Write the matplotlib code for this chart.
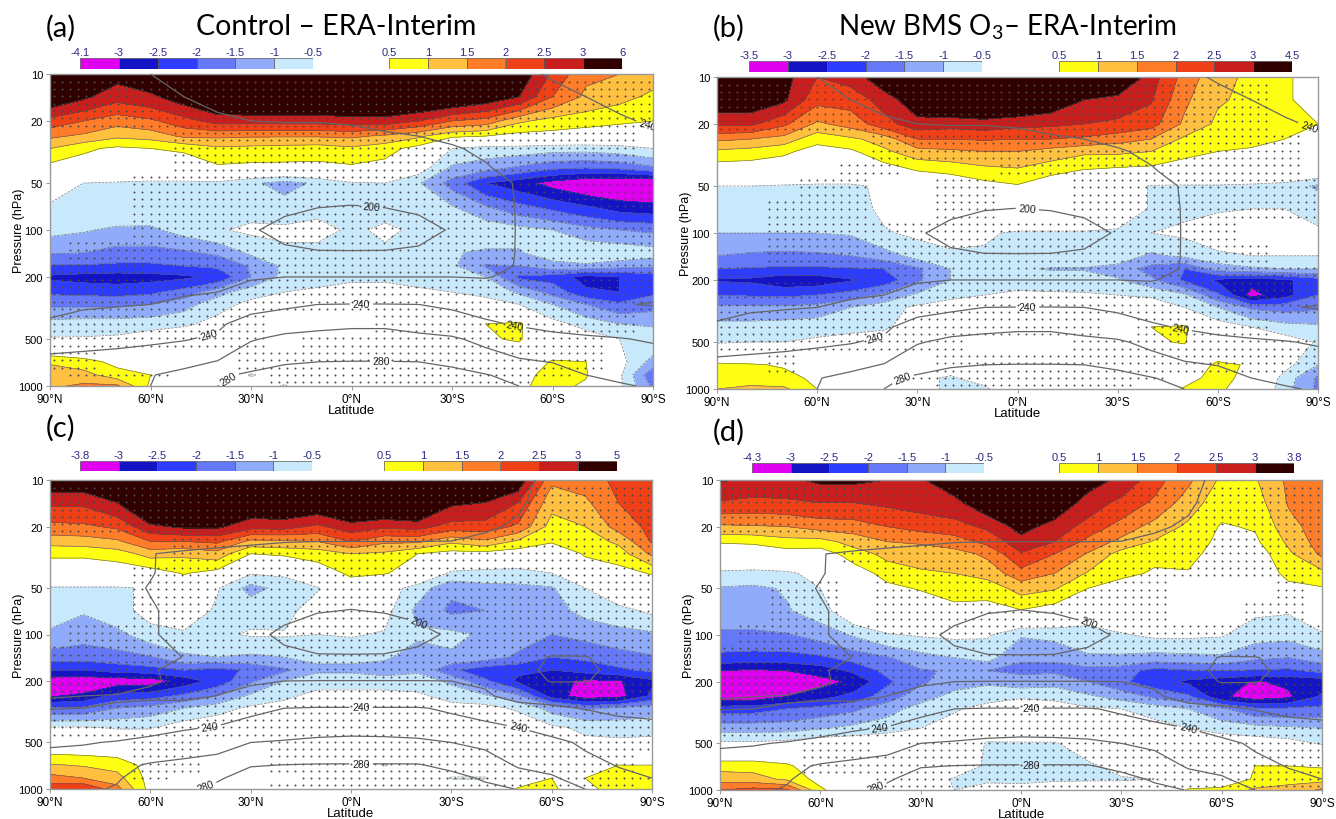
import numpy as np
import matplotlib
matplotlib.use("Agg")
import matplotlib.pyplot as plt
from matplotlib.ticker import NullLocator

# Grid of the zonal means
lats = [90, 80, 70, 60, 50, 40, 30, 20, 10, 0, -10, -20, -30, -40, -50, -60, -70, -80, -90]
plevs = [10, 14, 20, 25, 30, 40, 50, 70, 100, 140, 170, 200, 250, 300, 400, 500, 700, 850, 1000]
lat_ticks = [90, 60, 30, 0, -30, -60, -90]
lat_labels = ['90°N', '60°N', '30°N', '0°N', '30°S', '60°S', '90°S']
p_ticks = [10, 20, 50, 100, 200, 500, 1000]

neg_colors = ['#e000f0', '#1414c4', '#2e3cff', '#6478f8', '#8fabfa', '#c8e8fb']
pos_colors = ['#ffff14', '#ffc040', '#ff7d28', '#f04018', '#c81e1e', '#300000']

neg_labels_a = ['-4.1', '-3', '-2.5', '-2', '-1.5', '-1', '-0.5']
neg_labels_b = ['-3.5', '-3', '-2.5', '-2', '-1.5', '-1', '-0.5']
neg_labels_c = ['-3.8', '-3', '-2.5', '-2', '-1.5', '-1', '-0.5']
neg_labels_d = ['-4.3', '-3', '-2.5', '-2', '-1.5', '-1', '-0.5']
pos_labels_a = ['0.5', '1', '1.5', '2', '2.5', '3', '6']
pos_labels_b = ['0.5', '1', '1.5', '2', '2.5', '3', '4.5']
pos_labels_c = ['0.5', '1', '1.5', '2', '2.5', '3', '5']
pos_labels_d = ['0.5', '1', '1.5', '2', '2.5', '3', '3.8']

# Temperature bias, one row per pressure level
bias_a = [
    [4.0, 3.8, 3.2, 3.4, 4.0, 4.5, 4.5, 4.5, 4.5, 4.5, 4.5, 4.5, 4.5, 4.2, 3.4, 2.4, 1.6, 1.5, 1.2],
    [3.5, 3.1, 2.7, 2.9, 3.3, 3.7, 3.8, 3.8, 3.8, 3.8, 3.8, 3.8, 3.7, 3.4, 3.0, 2.0, 1.4, 1.15, 0.9],
    [2.3, 2.0, 1.7, 1.9, 2.3, 2.7, 2.7, 2.7, 2.7, 2.8, 2.8, 2.5, 2.0, 1.8, 1.1, 0.8, 0.7, 0.6, 0.5],
    [1.6, 1.4, 1.1, 1.2, 1.6, 1.6, 1.55, 1.55, 1.55, 1.6, 1.4, 1.1, 0.6, 0.5, 0.3, 0.3, 0.2, 0.1, 0.1],
    [1.0, 0.6, 0.4, 0.5, 0.6, 0.9, 0.85, 0.8, 0.75, 0.9, 0.7, 0.3, -0.5, -0.7, -0.7, -0.8, -0.8, -0.7, -0.5],
    [0.3, 0.2, 0.1, 0.1, 0.1, 0.4, 0.35, 0.35, 0.35, 0.4, 0.3, -0.2, -1.1, -1.3, -1.6, -1.9, -2.0, -1.9, -1.6],
    [-0.2, -0.5, -0.55, -0.6, -0.6, -0.6, -0.9, -1.2, -0.9, -0.55, -0.5, -0.95, -1.7, -2.5, -2.8, -3.2, -3.5, -3.6, -3.6],
    [-0.55, -0.55, -0.55, -0.6, -0.6, -0.7, -0.7, -0.8, -0.6, -0.55, -0.6, -0.7, -1.0, -1.5, -1.9, -2.2, -2.5, -2.8, -2.9],
    [-0.85, -0.95, -1.1, -1.1, -0.8, -0.55, -0.4, -0.4, -0.4, -0.55, -0.45, -0.55, -0.5, -0.6, -0.8, -1.0, -1.3, -1.5, -1.6],
    [-1.45, -1.5, -1.7, -1.7, -1.6, -1.4, -0.9, -0.6, -0.6, -0.55, -0.55, -0.55, -0.95, -1.1, -1.05, -0.7, -0.6, -0.6, -0.75],
    [-2.05, -2.05, -2.1, -2.1, -2.0, -1.9, -1.45, -0.9, -0.6, -0.55, -0.55, -0.6, -0.9, -1.55, -1.5, -1.2, -1.1, -1.3, -1.4],
    [-2.6, -2.7, -2.75, -2.7, -2.6, -2.4, -1.5, -0.85, -0.6, -0.55, -0.55, -0.6, -0.7, -1.0, -2.1, -2.2, -2.7, -2.5, -2.3],
    [-2.1, -2.15, -2.2, -2.1, -1.8, -1.2, -0.7, -0.5, -0.45, -0.4, -0.4, -0.45, -0.5, -0.6, -1.1, -1.7, -2.4, -2.5, -2.1],
    [-1.6, -1.6, -1.6, -1.5, -1.2, -0.7, -0.35, -0.2, -0.2, -0.2, -0.2, -0.2, -0.25, -0.35, -0.5, -1.0, -1.5, -1.9, -1.7],
    [-0.8, -0.75, -0.75, -0.7, -0.6, -0.3, 0, 0, 0, 0, 0, 0, 0.1, 0.5, 0.6, -0.3, -0.7, -1.0, -1.1],
    [-0.45, -0.45, -0.4, -0.2, 0, 0, 0, 0, 0.1, 0.1, 0.1, 0, 0, 0.45, 0.55, 0, -0.2, -0.5, -0.55],
    [0.9, 0.7, 0.35, 0.1, 0, 0, 0, 0, 0, 0, 0, 0, 0, 0, 0.1, 0.55, 0.5, -0.3, -1.2],
    [1.4, 1.2, 0.7, 0.5, 0.2, 0, -0.55, -0.2, 0, 0, 0, 0, 0, 0.1, 0.2, 0.8, 0.55, -0.4, -1.9],
    [1.4, 1.6, 1.6, 0.4, 0, 0, -0.2, -0.55, 0, 0, 0, 0, 0.1, 0.2, 0.4, 0.7, 0.4, -0.4, -1.6],
]
bias_b = [
    [3.6, 3.5, 3.2, 2.5, 2.7, 3.4, 4, 4, 4, 4, 4, 4, 3.7, 2.75, 1.8, 1.15, 0.9, 0.6, 0.2],
    [3.4, 3.4, 3.1, 2.15, 2.2, 2.7, 3.4, 3.7, 3.7, 3.7, 3.4, 3.0, 2.8, 2.55, 1.6, 1.05, 0.9, 0.6, 0.2],
    [2.6, 2.6, 2.1, 1.4, 1.7, 2.3, 2.8, 2.7, 2.8, 2.65, 2.6, 2.5, 2.4, 2.2, 1.4, 0.9, 0.8, 0.6, 0.5],
    [1.6, 1.5, 1.3, 0.65, 0.9, 1.2, 2.0, 2.0, 2.05, 2.0, 2.0, 1.9, 1.7, 1.5, 0.9, 0.7, 0.6, 0.5, 0.4],
    [0.9, 0.8, 0.6, 0.3, 0.4, 0.9, 1.3, 1.4, 1.5, 1.5, 1.3, 1.1, 1.1, 1.0, 0.7, 0.5, 0.45, 0.5, 0.45],
    [0.1, 0.1, 0.1, 0.1, 0.1, 0.15, 0.5, 0.6, 0.8, 0.9, 0.65, 0.45, 0.35, 0.3, 0.1, 0.1, 0.1, 0.1, 0],
    [-0.5, -0.5, -0.55, -0.6, -0.6, -0.4, 0, 0.1, 0.3, 0.45, 0.1, 0, -0.1, -0.55, -0.55, -0.55, -0.6, -0.7, -1.1],
    [-0.7, -0.7, -0.75, -0.75, -0.7, -0.4, -0.1, 0, 0, 0, 0, 0, -0.1, -0.55, -0.6, -0.55, -0.5, -0.5, -0.6],
    [-1, -1, -1, -1, -0.95, -0.55, -0.4, -0.4, -0.45, -0.55, -0.55, -0.55, -0.6, -0.5, -0.4, -0.2, -0.2, -0.3, -0.45],
    [-1.5, -1.6, -1.65, -1.6, -1.5, -1.25, -0.8, -0.55, -0.55, -0.6, -0.6, -0.6, -0.7, -1.1, -0.9, -0.6, -0.5, -0.5, -0.5],
    [-2, -2.05, -2.1, -2.1, -2.05, -2.0, -1.6, -1, -0.6, -0.9, -1.05, -1.05, -1.2, -1.7, -2.0, -1.3, -1.1, -1.0, -1.0],
    [-2.55, -2.6, -2.85, -2.8, -2.55, -2.3, -1.6, -1.0, -0.7, -0.6, -0.65, -0.7, -0.95, -1.4, -2.1, -2.6, -2.8, -2.6, -2.2],
    [-2.0, -2.05, -2.1, -2.0, -1.8, -1.4, -0.9, -0.6, -0.5, -0.45, -0.45, -0.45, -0.5, -0.55, -0.9, -1.9, -3.2, -2.7, -2.0],
    [-1.4, -1.4, -1.4, -1.3, -1.0, -0.7, -0.4, -0.3, -0.2, -0.2, -0.2, -0.2, -0.2, -0.3, -0.5, -1.0, -1.6, -1.7, -1.6],
    [-0.8, -0.8, -0.75, -0.7, -0.7, -0.6, -0.2, 0, 0, 0, 0, 0, 0.1, 0.5, 0.58, -0.2, -0.5, -0.8, -0.9],
    [-0.55, -0.5, -0.5, -0.4, -0.2, -0.1, 0, 0, 0, 0, 0, 0, 0, 0.45, 0.53, 0, -0.1, -0.2, -0.55],
    [0.6, 0.55, 0.45, 0.2, 0, 0, -0.1, -0.3, -0.52, -0.3, 0, 0, 0, 0, 0.1, 0.6, 0.45, -0.3, -1.0],
    [0.9, 0.8, 0.65, 0.4, 0.1, 0, -0.4, -0.55, -0.3, 0, 0, 0, 0, 0, 0.3, 0.7, 0.3, -0.7, -1.6],
    [1.0, 1.1, 1.1, 0.5, 0, -0.1, -0.4, -0.55, -0.6, 0, 0, 0, 0, 0.1, 0.55, 0.6, 0.2, -0.8, -1.6],
]
# c and d: one row per latitude
bias_c_by_lat = [
    [3.4, 2.6, 1.85, 1.2, 0.6, 0.1, -0.55, -0.75, -1.1, -1.75, -2.5, -3.3, -3.05, -1.95, -0.45, 0, 1.05, 1.7, 2.3],
    [3.4, 2.6, 1.9, 1.25, 0.6, 0.1, -0.55, -0.95, -1.3, -1.8, -2.5, -3.4, -2.9, -1.9, -0.45, 0, 0.95, 1.5, 2.5],
    [3.7, 3.0, 2.1, 1.4, 0.75, 0.1, -0.55, -0.7, -1.15, -1.7, -2.3, -3.3, -2.3, -1.5, -0.55, 0, 0.8, 1.2, 1.7],
    [4.5, 3.8, 2.9, 2.0, 1.2, 0.2, -0.45, -0.3, -0.7, -1.55, -2.2, -3.3, -2.2, -1.3, -0.55, 0, 0.3, 0.3, 0.3],
    [4.5, 4.3, 3.1, 2.0, 1.1, 0.55, 0, -0.1, -0.6, -1.1, -2.0, -2.8, -1.9, -1, -0.2, 0, 0, 0, 0],
    [4.5, 4.2, 3.1, 2.1, 1.3, 0.3, -0.45, -0.6, -0.6, -1.0, -2.2, -2.3, -1.5, -0.7, -0.1, 0, 0, 0, 0],
    [4.5, 3.5, 2.7, 1.35, 0.5, -0.45, -1.2, -0.65, -0.45, -1.1, -1.9, -1.6, -0.9, -0.4, 0, 0, 0, 0, 0],
    [4.5, 3.6, 2.7, 1.4, 0.6, -0.4, -0.8, -0.7, -0.45, -1.0, -1.6, -1.0, -0.6, -0.3, 0, 0, 0, 0, 0],
    [4.5, 3.5, 2.4, 1.5, 0.7, 0.2, -0.55, -0.2, -0.5, -0.9, -1.1, -0.7, -0.35, -0.2, 0, 0, 0, 0, 0],
    [4.5, 3.8, 2.8, 2.0, 1.0, 0.6, 0.2, -0.1, -0.45, -0.9, -1.1, -0.7, -0.35, -0.2, 0, 0, 0, 0, 0],
    [4.5, 3.8, 2.6, 1.6, 0.9, 0.55, -0.2, -0.3, -0.55, -0.9, -1.3, -0.7, -0.35, -0.2, 0, 0, -0.55, 0, 0],
    [4.5, 3.9, 2.7, 1.6, 0.5, 0.2, -0.75, -1.15, -0.9, -1.3, -1.1, -0.75, -0.4, -0.2, 0, 0, -0.1, 0, 0],
    [4.5, 3.1, 2.3, 1.1, 0.3, -0.6, -1.4, -1.6, -0.85, -1.1, -1.9, -1.1, -0.7, -0.3, 0, 0, 0, -0.55, 0],
    [4.5, 3, 2.3, 1.4, 0.3, -0.7, -1.15, -1.5, -1.1, -1.25, -2.3, -1.9, -0.9, -0.3, 0, 0, 0, -0.55, 0],
    [3.4, 2.5, 1.9, 0.9, 0.2, -0.75, -1.1, -1.3, -1.25, -1.6, -2.4, -2.6, -1.4, -0.6, 0, 0, 0, 0.2, 0.55],
    [1.6, 1.15, 0.8, 0.55, 0.1, -0.5, -1.05, -1.2, -1.5, -2.0, -2.5, -2.8, -2.7, -1.2, -0.4, 0, 0, 0.5, 0.55],
    [1.7, 1.4, 1.0, 0.75, 0.55, 0.2, -0.5, -0.85, -1.35, -1.9, -2.3, -3.1, -3.3, -1.6, -0.6, -0.4, 0.3, 0.5, 0.3],
    [2.15, 2.0, 1.7, 1.1, 0.75, 0.3, -0.1, -0.65, -1.2, -1.7, -2.1, -3.05, -3.2, -1.4, -0.7, -0.4, 0.5, 0.7, 0.8],
    [2.4, 2.3, 2.15, 2.05, 1.6, 0.55, 0.1, -0.4, -1.1, -1.55, -1.9, -2.6, -2.4, -1.2, -0.75, -0.3, 0.5, 1, 1],
]
bias_d_by_lat = [
    [3.05, 2.45, 1.4, 0.55, 0.1, -0.6, -1.05, -1.2, -1.6, -2.15, -3.0, -3.5, -3.4, -2.2, -1.2, -0.4, 0.8, 1.3, 2.0],
    [2.9, 2.35, 1.45, 0.6, 0.1, -0.65, -1.1, -1.2, -1.6, -2.2, -3.1, -3.5, -3.3, -2.2, -1.2, -0.4, 0.8, 1.2, 2.2],
    [2.9, 2.4, 1.5, 0.8, 0.25, -0.6, -0.95, -1.05, -1.55, -2.2, -3.0, -3.4, -3.0, -2, -1.2, -0.3, 0.6, 0.9, 2.1],
    [3.1, 2.5, 1.7, 0.8, 0.2, -0.3, -0.5, -0.75, -1.3, -2.1, -2.8, -3.2, -2.7, -1.8, -1.05, -0.1, 0.1, 0.3, 0.6],
    [3.1, 2.5, 1.75, 1.2, 0.75, 0.2, 0, 0, -0.95, -1.8, -2.4, -2.9, -2.3, -1.6, -0.85, -0.1, 0, 0, 0],
    [3.0, 2.6, 2.0, 1.5, 1.15, 0.7, 0.35, 0.1, -0.55, -1.55, -1.85, -2.1, -1.75, -1.2, -0.7, 0, 0, 0, 0],
    [2.95, 2.7, 2.2, 1.55, 1.3, 0.9, 0.55, 0, -0.45, -1.2, -1.55, -1.6, -1.2, -0.8, -0.5, 0, 0, -0.2, -0.2],
    [3.3, 2.85, 2.3, 1.75, 1.3, 1.0, 0.75, 0.3, -0.4, -1, -1.45, -1.2, -0.85, -0.55, -0.3, 0, -0.1, -0.55, -0.5],
    [3.7, 3.4, 2.6, 2.15, 1.6, 1.2, 0.7, 0.3, -0.45, -0.8, -1.5, -1.1, -0.65, -0.35, -0.1, -0.55, -0.6, -0.6, -0.3],
    [3.7, 3.6, 3.2, 2.8, 2.45, 1.8, 1.2, 0.45, -0.95, -1.45, -1.6, -1.3, -0.55, -0.2, 0, -0.55, -0.8, -0.7, -0.2],
    [3.7, 3.4, 2.8, 2.5, 2.0, 1.5, 1.05, 0.2, -0.85, -1.45, -1.6, -1.2, -0.6, -0.3, 0, -0.55, -0.7, -0.6, -0.1],
    [3.2, 2.8, 2.3, 1.85, 1.45, 0.95, 0.5, -0.1, -0.8, -1.05, -1.7, -1.5, -0.9, -0.4, 0, -0.2, -0.6, -0.6, 0],
    [2.9, 2.35, 1.8, 1.35, 0.8, 0.6, 0.3, -0.1, -0.55, -1.1, -1.75, -1.9, -1.2, -0.5, 0, 0, -0.3, -0.55, -0.2],
    [2.2, 1.9, 1.3, 0.95, 0.6, 0.45, 0.1, 0, -0.4, -1.2, -2.2, -2.3, -1.6, -0.7, -0.3, 0, 0, -0.5, -0.1],
    [1.6, 1.25, 0.9, 0.8, 0.7, 0.45, 0, 0, -0.4, -1.15, -2.05, -2.6, -1.9, -1.0, -0.5, 0, 0, 0.1, 0.55],
    [0.9, 0.7, 0.45, 0.35, 0.2, 0.1, 0, -0.1, -0.45, -1.1, -2.0, -2.8, -2.9, -1.4, -0.7, -0.1, 0, 0.2, 0.6],
    [0.95, 0.75, 0.55, 0.4, 0.2, 0.1, -0.1, -0.4, -0.8, -1.4, -2.05, -3.05, -3.3, -1.9, -0.8, -0.2, 0.5, 0.55, 1.1],
    [1.6, 1.55, 1.3, 1.1, 0.9, 0.65, 0.35, -0.45, -0.85, -1.5, -2.1, -2.9, -3.1, -1.9, -0.9, -0.3, 0.5, 0.9, 1.1],
    [1.8, 1.8, 1.8, 1.75, 1.6, 0.85, 0.45, -0.2, -0.55, -1.25, -1.85, -2.8, -2.4, -1.85, -1.0, -0.55, 0.45, 0.8, 1.6],
]

# ERA-Interim temperature (K), one set for a/b and one for c/d
temp_ab = [
    [205, 208, 213, 220, 225, 227, 228, 229, 230, 231, 232, 233, 234, 236, 238, 241, 246, 250, 253],
    [205, 208, 212, 216, 220, 223, 225, 226, 227, 228, 229, 230, 231, 233, 235, 237, 240, 244, 248],
    [206, 208, 210, 212, 215, 218, 220, 220.3, 220.3, 221, 222, 224, 226, 228, 230, 232, 235, 238, 242],
    [206, 207, 208, 210, 212, 214, 216, 217, 217, 217, 219, 220, 222, 225, 228, 230, 232, 234, 236],
    [207, 207, 208, 209, 210, 212, 214, 214, 214, 214, 215, 217, 219, 222, 226, 229, 231, 232, 233],
    [207, 207, 208, 209, 209, 210, 211, 211, 210, 210, 211, 213, 216, 219, 224, 227, 229, 230, 231],
    [208, 208, 209, 209, 209, 208, 207, 206, 206, 206, 207, 209, 212, 216, 221, 225, 227, 228, 229],
    [209, 209, 209, 209, 208, 206, 204, 202, 200.5, 199.8, 200.5, 202, 207, 213, 221, 225, 226, 227, 227],
    [211, 211, 211, 210, 209, 207, 201, 197, 193, 192, 193, 196, 201, 212, 221, 224, 225, 225, 225],
    [214, 214, 214, 213, 212, 209, 206, 202, 201, 201, 201, 202, 206, 213, 221, 224, 225, 225, 224],
    [216, 216, 215, 215, 214, 212, 210, 209, 208, 208, 208, 209, 211, 215, 221, 224, 224, 224, 224],
    [217, 217, 217, 216, 216, 217, 219, 220, 220, 220, 220, 220, 220, 219.5, 222, 223, 222, 222, 222],
    [218, 218, 218, 218.5, 219, 220, 224, 226, 227, 227, 227, 227, 227, 226, 225, 224, 223, 222, 222],
    [219, 219, 219.5, 220, 222, 227, 233, 236, 240, 240.5, 240.5, 240, 236, 232, 228, 225, 223, 220.5, 219.5],
    [220.5, 223, 224, 226, 232, 237, 248, 255, 257, 258, 258, 256, 252, 243, 238, 235, 232, 230, 228],
    [232, 233, 235, 237, 239, 243, 259, 263, 264, 265, 265, 263, 262, 256, 251, 245, 243, 241, 238],
    [245, 247, 248, 250, 254, 261, 270, 278, 280, 280.5, 280.5, 280, 277, 268, 262, 259.5, 255, 252, 250],
    [250, 252, 255, 259, 266, 276, 284, 288, 290, 290, 290, 288, 285, 281, 274, 268, 260, 256, 255],
    [252, 254, 257, 260, 268, 280, 290, 296, 298, 298, 298, 296, 291, 286, 280, 275, 268, 262, 258],
]
temp_cd = [
    [238, 237, 236, 235, 234, 233, 232, 231, 230, 230, 229, 228, 227, 226, 222, 218, 214, 210, 207],
    [238, 237, 236, 234, 233, 232, 230, 228, 227, 227, 226, 225, 224, 223, 221, 217, 213, 209, 206],
    [238, 237, 235, 233, 231, 229, 227, 226, 225, 225, 224, 224, 223, 221, 219, 216, 212, 208, 205],
    [238, 236, 234, 230, 227, 224, 222, 220.5, 220, 220, 220, 220, 219.9, 218.5, 216, 213, 209, 206, 204],
    [238, 235, 232, 220.5, 217.5, 216, 215, 214, 214, 214, 214, 214, 214, 212, 210, 208, 205, 204, 203],
    [238, 234, 228, 221, 214, 211, 209, 208, 207, 207, 207, 207, 207, 206, 205, 204, 203, 203, 203],
    [235, 231, 226, 219, 213, 209, 206, 204, 203, 203, 203, 203, 204, 204, 204, 204, 203, 203, 203],
    [232, 229, 225, 222, 214, 208, 204, 202, 200.5, 199.8, 200.5, 201.5, 203, 204, 204, 204, 203, 203, 203],
    [230, 228, 225, 222, 214, 207, 202, 198.5, 195, 194, 195, 198, 201, 204, 207, 207, 206, 206, 206],
    [227, 226, 225, 223, 219.8, 212, 205, 202, 201, 201, 201, 202, 204, 206, 203, 199.5, 199.7, 202, 204],
    [222, 222, 222, 221, 217, 212, 209, 208, 208, 208, 208, 208, 209, 208, 203, 198, 198.5, 202, 204],
    [225, 225, 224, 221, 218, 215, 218, 220, 220.5, 220.5, 220.5, 220.5, 220, 218, 208, 199, 199.5, 203, 205],
    [220.1, 220, 219.5, 218, 216, 220.3, 225, 227, 228, 228, 228, 228, 228, 222, 215, 215, 210, 208, 209],
    [219.5, 220, 220.5, 224, 228, 231, 236, 240, 241, 241, 241, 241, 238, 233, 225, 222, 219.5, 215, 213],
    [230, 231, 232, 235, 238.5, 241, 246, 250, 253, 254, 253, 251, 246, 244, 240, 233, 228, 228, 226],
    [238.5, 239, 241, 244, 247, 249, 260, 262, 264, 265, 265, 264, 260, 256, 250, 245, 237, 235, 232],
    [246, 249, 255, 262, 266, 272, 279, 280.3, 281, 281, 281, 281, 276, 270, 258, 255, 246, 239, 235],
    [252, 255, 259, 265, 272, 278, 287, 289, 290, 290, 290, 288, 285, 278, 268, 262, 253, 245, 240],
    [254, 258, 261, 267, 277, 284, 292, 296, 298, 298, 298, 296, 290, 284, 279.5, 268, 260, 252, 246],
]

# Significance: 1 = stippled, one string per pressure level
sig_a = ["1111111111111111111", "1111111111111111111", "1111111111111111111", "0000111111111111110",
         "0000111111111111110", "0000111111111111110", "0001111111111111111", "0001111111111111111",
         "0001111111111111111", "0111111111111111111", "1111111111111111111", "1111111111111111111",
         "1111111111111111111", "1111111111111111111", "1111111000111111110", "1111111011111111100",
         "1100001111111111100", "0111000111111111000", "0000000111111110000"]
sig_b = ["1111111111111111100", "1111111111111111100", "1111111111111111100", "0000011111111111110",
         "0000011111111111110", "0000110001111111110", "0001100110011111111", "0011100110011111111",
         "0011111111111111000", "0011111111111111100", "1111111111111111111", "1111111111111111111",
         "1111111111111111111", "1111111111111111111", "1111111111110111100", "1111111100011111111",
         "0010000111111111111", "0000001111111100000", "0000000111111000000"]
sig_c = ["1111111111111111111", "1111111111111111111", "1111111111111111111", "0000111111111111111",
         "0000111111111111111", "0001111111111111111", "0001111111111111111", "0001111111111111111",
         "0111111111111111111", "1111111111111111111", "1111111111111111111", "1111111111111111111",
         "1111111111111111111", "1111111111111111111", "1111111111111111111", "0001100111111111111",
         "0001100111111111110", "0001000011111111111", "0000000111111111110"]
sig_d = ["1111111111111111111", "1111111111111111111", "1111111111111111111", "0000111111111111111",
         "0000111111111111111", "0000011111111111111", "0011011111111100010", "0011011111111100110",
         "0111111111111111111", "1111111111111111111", "1111111111111111111", "1111111111111111111",
         "1111111111111111111", "1111111111111111111", "1111111111111111111", "0001101111111111111",
         "0001111111111111111", "0000011111111111111", "0000011111111111111"]

plt.rcParams['font.family'] = ['Liberation Sans', 'DejaVu Sans']
plt.rcParams['mathtext.fontset'] = 'custom'
plt.rcParams['mathtext.rm'] = 'Lato'
plt.rcParams['mathtext.default'] = 'rm'

W, H = 1336, 820
fig = plt.figure(figsize=(W / 100, H / 100), dpi=100, facecolor='white')


def px_axes(x0, y0, x1, y1):
    return fig.add_axes([x0 / W, 1 - y1 / H, (x1 - x0) / W, (y1 - y0) / H])


def px_text(x, y, s, **kw):
    fig.text(x / W, 1 - y / H, s, **kw)


def colorbar(x0, x1, y0, y1, colors, labels):
    ax = px_axes(x0, y0, x1, y1)
    ax.bar(range(6), [1] * 6, width=1, align='edge', color=colors, edgecolor='#555555', linewidth=0.5)
    ax.set_xlim(0, 6)
    ax.set_ylim(0, 1)
    ax.axis('off')
    for i, lab in enumerate(labels):
        ax.text(i, 1.12, lab, ha='center', va='bottom', fontsize=8, color='#2a2a80', clip_on=False)


def panel(box, bias, temp, sig, vmin, vmax, label_pos):
    ax = px_axes(*box)
    ax.set_yscale('log')
    ax.set_xlim(90, -90)
    ax.set_ylim(1000, 10)
    levels = [vmin, -3, -2.5, -2, -1.5, -1, -0.5, 0.5, 1, 1.5, 2, 2.5, 3, vmax]
    colors = neg_colors + ['white'] + pos_colors
    ax.contourf(lats, plevs, bias, levels=levels, colors=colors)
    ax.contour(lats, plevs, bias, levels=levels[1:-1], colors='#555555', linewidths=0.5, alpha=0.8)

    # stippling on a regular lattice, looked up in the significance rows
    mask = np.array([[c == '1' for c in row] for row in sig])
    dot_lat = np.arange(88.8, -90, -2.4)
    cols = np.argmin(np.abs(np.subtract.outer(dot_lat, lats)), axis=1)
    for lp in np.arange(1.05, 3.0, 0.047):
        r = np.argmin(np.abs(np.log10(plevs) - lp))
        on = mask[r, cols]
        ax.scatter(dot_lat[on], np.full(on.sum(), 10 ** lp), s=2.0, color='#4a4a4a', linewidths=0, zorder=4)

    ax.contour(lats, plevs, temp, levels=[220, 260], colors='#666666', linewidths=0.9, zorder=5)
    cs = ax.contour(lats, plevs, temp, levels=[200, 240, 280], colors='#666666', linewidths=0.9, zorder=5)
    labs = ax.clabel(cs, fmt='%d', fontsize=7.5, inline=True, inline_spacing=3, manual=label_pos)
    for t in labs:
        t.set_zorder(6)
        t.set_color('#222222')

    ax.set_xticks(lat_ticks)
    ax.set_xticklabels(lat_labels, fontsize=8.5)
    ax.set_yticks(p_ticks)
    ax.set_yticklabels([str(p) for p in p_ticks], fontsize=8)
    ax.yaxis.set_minor_locator(NullLocator())
    ax.tick_params(axis='both', length=3, width=0.6, color='#888888', pad=2)
    ax.set_xlabel('Latitude', fontsize=9.5, labelpad=-1)
    ax.set_ylabel('Pressure (hPa)', fontsize=9, labelpad=-5)
    for s in ax.spines.values():
        s.set_color('#999999')
        s.set_linewidth(1.0)
    return ax


panel((50, 75, 653, 387), bias_a, temp_ab, sig_a, -4.1, 6,
      [(-6, 66), (-3, 295), (43, 440), (-49, 385), (-88, 22), (-9, 660), (36, 950)])
panel((717, 78, 1318, 390), bias_b, temp_ab, sig_b, -3.5, 4.5,
      [(-3, 68), (-3, 295), (43, 440), (-49, 385), (-87, 22), (34, 950)])
panel((50, 481, 652, 790), np.array(bias_c_by_lat).T, temp_cd, sig_c, -3.8, 5,
      [(-20, 85), (-3, 285), (-50, 400), (42, 450), (-3, 660), (44, 900)])
panel((720, 481, 1322, 791), np.array(bias_d_by_lat).T, temp_cd, sig_d, -4.3, 3.8,
      [(-20, 85), (-3, 285), (-50, 400), (42, 450), (-3, 660), (44, 900)])

colorbar(80, 313, 59, 70, neg_colors, neg_labels_a)
colorbar(389, 622, 59, 70, pos_colors, pos_labels_a)
colorbar(749, 982, 62, 73, neg_colors, neg_labels_b)
colorbar(1059, 1292, 62, 73, pos_colors, pos_labels_b)
colorbar(80, 312, 462, 472, neg_colors, neg_labels_c)
colorbar(384, 617, 462, 472, pos_colors, pos_labels_c)
colorbar(752, 984, 464, 474, neg_colors, neg_labels_d)
colorbar(1059, 1294, 464, 474, pos_colors, pos_labels_d)

title_font = ['Lato', 'DejaVu Sans']
px_text(336, 27, 'Control – ERA-Interim', ha='center', va='center', fontsize=20.5, family=title_font)
px_text(1007, 27, 'New BMS O$_3$– ERA-Interim', ha='center', va='center', fontsize=20, family=title_font)
for x, y, s in [(46, 28, '(a)'), (713, 28, '(b)'), (46, 428, '(c)'), (713, 432, '(d)')]:
    px_text(x, y, s, ha='left', va='center', fontsize=21, family=title_font)

fig.savefig('out.png', dpi=100)
